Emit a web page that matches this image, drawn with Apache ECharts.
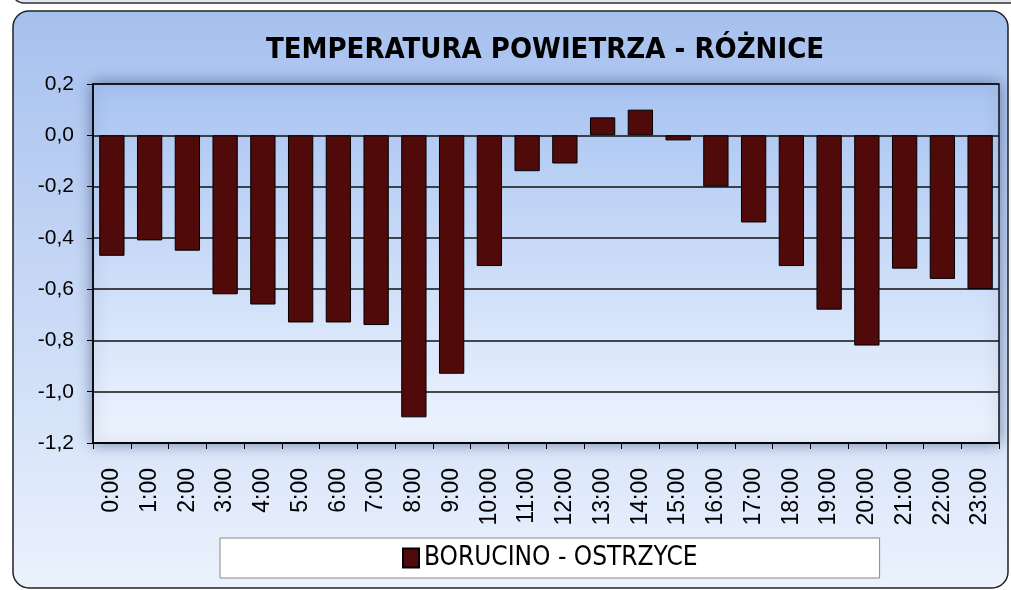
<!DOCTYPE html>
<html>
<head>
<meta charset="utf-8">
<script src="https://cdn.jsdelivr.net/npm/echarts@6/dist/echarts.min.js"></script>
<style>
  html, body { margin: 0; padding: 0; background: #fff; }
  #chart { width: 1011px; height: 590px; }
</style>
</head>
<body>
<div id="chart"></div>
<script>
// godziny pomiarów
const hours = ['0:00', '1:00', '2:00', '3:00', '4:00', '5:00', '6:00', '7:00', '8:00', '9:00', '10:00', '11:00',
  '12:00', '13:00', '14:00', '15:00', '16:00', '17:00', '18:00', '19:00', '20:00', '21:00', '22:00', '23:00']
// różnica temperatur Borucino - Ostrzyce
const roznice = [-0.47, -0.41, -0.45, -0.62, -0.66, -0.73, -0.73, -0.74, -1.1, -0.93, -0.51, -0.14,
  -0.11, 0.07, 0.1, -0.02, -0.2, -0.34, -0.51, -0.68, -0.82, -0.52, -0.56, -0.6]
const seriesName = 'BORUCINO - OSTRZYCE'
const yMin = -1.2
const yMax = 0.2
const yStep = 0.2

const narrow = "'Liberation Sans Narrow', 'DejaVu Sans Condensed', sans-serif"
const arial = "'Liberation Sans', Arial, sans-serif"

const chart = echarts.init(document.getElementById('chart'))
chart.setOption({
  animation: false,
  graphic: [
    {
      type: 'rect',
      z: -10,
      shape: { x: 12, y: -30, width: 1010, height: 33, r: 12 },
      style: { fill: '#e4e8ee', stroke: '#333', lineWidth: 1.5 }
    },
    {
      type: 'rect',
      z: -10,
      shape: { x: 13, y: 11, width: 995, height: 577, r: 16 },
      style: {
        fill: new echarts.graphic.LinearGradient(0, 0, 0, 1, [
          { offset: 0, color: '#a6c0ee' },
          { offset: 1, color: '#ebf2fd' }
        ]),
        stroke: '#222',
        lineWidth: 1.5
      }
    }
  ],
  title: {
    text: 'TEMPERATURA POWIETRZA - RÓŻNICE',
    left: 540,
    textAlign: 'center',
    top: 31,
    textStyle: {
      fontFamily: narrow,
      fontWeight: 'bold',
      fontSize: 29,
      color: '#000'
    }
  },
  legend: {
    data: [seriesName],
    icon: 'rect',
    left: 220,
    top: 538,
    padding: [7, 182],
    backgroundColor: '#fff',
    borderColor: '#888',
    borderWidth: 1,
    itemWidth: 16,
    itemHeight: 19,
    itemGap: 0,
    textStyle: {
      fontFamily: narrow,
      fontSize: 26,
      color: '#000'
    }
  },
  grid: {
    left: 93,
    right: 12,
    top: 84,
    bottom: 147,
    containLabel: false,
    outerBoundsMode: 'none',
    show: true,
    backgroundColor: new echarts.graphic.LinearGradient(0, 0, 0, 1, [
      { offset: 0, color: '#a8c4f2' },
      { offset: 1, color: '#eef4fe' }
    ]),
    borderColor: '#111',
    borderWidth: 1.5,
    shadowBlur: 14,
    shadowColor: 'rgba(40, 60, 110, 0.55)'
  },
  xAxis: {
    type: 'category',
    data: hours,
    axisLine: { onZero: false, lineStyle: { color: '#000', width: 1.5 } },
    axisTick: { show: true, length: 6, lineStyle: { color: '#000' } },
    axisLabel: {
      rotate: 90,
      margin: 25,
      interval: 0,
      fontFamily: arial,
      fontSize: 23,
      color: '#000'
    }
  },
  yAxis: {
    type: 'value',
    min: yMin,
    max: yMax,
    interval: yStep,
    axisLine: { show: true, lineStyle: { color: '#000', width: 1.5 } },
    axisTick: { show: true, length: 6, lineStyle: { color: '#000' } },
    splitLine: { lineStyle: { color: '#111', width: 1.5 } },
    axisLabel: {
      margin: 19,
      fontFamily: arial,
      fontSize: 21,
      color: '#000',
      // przecinek dziesiętny, bez "-0,0"
      formatter: v => {
        const r = Math.round(v * 10) / 10
        return (r === 0 ? 0 : r).toFixed(1).replace('.', ',')
      }
    }
  },
  series: [
    {
      name: seriesName,
      type: 'bar',
      data: roznice,
      barCategoryGap: '33%',
      itemStyle: {
        color: '#500a0a',
        borderColor: '#000',
        borderWidth: 1
      }
    }
  ]
})
</script>
</body>
</html>
